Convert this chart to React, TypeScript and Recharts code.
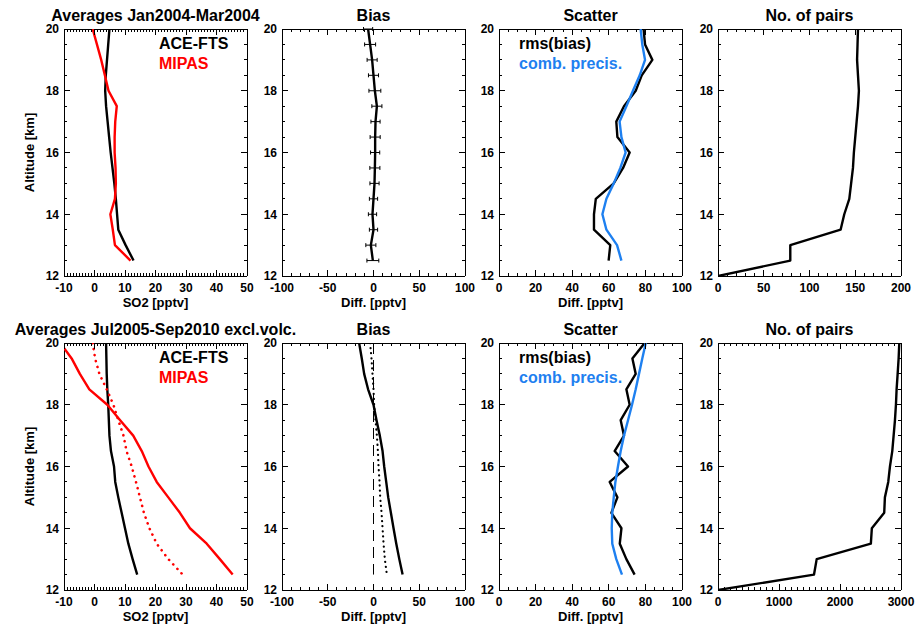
import React from "react";
import { ScatterChart, Scatter, XAxis, YAxis, ErrorBar } from "recharts";

const FONT = "'Liberation Sans', Arial, Helvetica, sans-serif";
const RED = "#ff0000";
const BLUE = "#1e80f0";

// altitude grid [km], top to bottom
const ALT = [20, 19.5, 19, 18.5, 18, 17.5, 17, 16.5, 16, 15.5, 15, 14.5, 14, 13.5, 13, 12.5];
const ALT_PAIRS = [...ALT, 12];

// Jan2004-Mar2004
const aceJan04 = [4.9, 4.5, 4.1, 3.7, 3.5, 3.8, 4.3, 4.8, 5.3, 5.9, 6.5, 7.0, 7.4, 7.8, 10.2, 12.8];
const mipasJan04 = [-0.6, 0.8, 2.2, 3.4, 4.6, 7.3, 6.8, 6.6, 6.6, 6.9, 7.0, 6.7, 5.2, 6.0, 6.7, 11.8];
const biasJan04 = [-5.9, -3.7, -1.5, 0, 1.5, 3.7, 2.2, 1.8, 1.8, 1.5, 1.1, 0, -1.1, 0, -2.9, -0.7];
const biasErrJan04 = [5, 6, 5.5, 5.5, 6.5, 5.5, 5, 5.5, 5, 5.5, 5, 4.5, 4.5, 4.5, 5.5, 6.5];
const rmsJan04 = [79, 79.8, 83.8, 78, 74.7, 68.3, 64.1, 64.7, 71.4, 67.8, 62.7, 52.9, 51.9, 51.9, 60.8, 59.9];
const precJan04 = [77.4, 78.3, 79.8, 76.9, 73.2, 69.6, 65.9, 66.9, 69.2, 66.3, 62.7, 58.7, 56.5, 58.7, 64.5, 66.9];
const pairsJan04 = [153, 152.5, 152, 153, 154, 153, 151.5, 150, 148.5, 147.5, 145.5, 143.5, 138, 134, 79, 79, 0];

// Jul2005-Sep2010 excl. volcanic periods
const aceJul05 = [3.8, 3.9, 4.0, 4.2, 4.5, 4.7, 4.9, 5.4, 6.4, 6.8, 7.8, 8.9, 10.0, 11.1, 12.5, 14.0];
const mipasJul05 = [-11.2, -7.5, -4.8, -1.7, 4.2, 8.4, 12.7, 15.5, 17.7, 20.4, 24.2, 28.0, 31.3, 36.8, 41.1, 45.3];
const mipasJul05Dot = [-0.6, 0.2, 1.6, 4.0, 6.2, 7.8, 9.5, 10.5, 12.2, 13.6, 14.9, 16.2, 18.0, 20.4, 24.2, 28.9];
const biasJul05 = [-15.7, -12.8, -10.2, -5.9, 0, 3.3, 6.9, 9.9, 11.7, 13.9, 16.1, 19.0, 21.9, 24.9, 28.2, 31.8];
const biasJul05Dot = [-3.7, -2.2, -1.1, 0, 0.7, 2.2, 3.7, 4.8, 5.5, 6.6, 7.3, 8.8, 9.9, 11.0, 12.4, 14.6];
const zeroLine = [0, 0];
const zeroAlt = [20, 12.5];
const rmsJul05 = [79.6, 72.9, 74.7, 69.6, 71.4, 66.5, 68.3, 63.2, 70.5, 60.5, 64.7, 61.4, 66.9, 66.0, 69.6, 74.1];
const precJul05 = [80.2, 78.3, 76.5, 74.7, 72.7, 70.5, 68.3, 66.5, 65.0, 63.6, 62.7, 61.9, 61.6, 61.9, 64.1, 67.2];
const pairsJul05 = [2972, 2961, 2945, 2928, 2917, 2901, 2879, 2857, 2819, 2791, 2736, 2725, 2522, 2506, 1618, 1574, 0];

// axis ticks
const range = (a: number, b: number, s: number) => {
  const out: number[] = [];
  for (let i = 0; a + i * s <= b + 1e-9; i++) out.push(+(a + i * s).toFixed(4));
  return out;
};
const altMajor = [12, 14, 16, 18, 20];
const altMinor = range(12, 20, 0.5);
const so2Major = [-10, 0, 10, 20, 30, 40, 50];
const so2Minor = range(-10, 50, 1);
const diffMajor = [-100, -50, 0, 50, 100];
const diffMinor = range(-100, 100, 10);
const scatMajor = [0, 20, 40, 60, 80, 100];
const scatMinor = range(0, 100, 5);
const pairsMajorA = [0, 50, 100, 150, 200];
const pairsMinorA = range(0, 200, 10);
const pairsMajorB = [0, 1000, 2000, 3000];
const pairsMinorB = range(0, 3000, 100);

const pts = (xs: number[], alts: number[], errs?: number[]) =>
  xs.map((x, i) => ({ x, y: alts[i], err: errs ? errs[i] : 0 }));

// geometry of one panel chart
const W = 263;
const H = 316;
const PL = 60;
const PT = 29;
const PW = 183;
const PH = 247;
const plotLefts = [64, 282, 499, 718];
const rowTops = [29, 343];

type Side = "bottom" | "top" | "left" | "right";

// IDL style: inward ticks on all four sides, long at majors, short at minors
const makeTick = (side: Side, majors: number[], labels: boolean) => (p: any) => {
  const { x, y, payload } = p;
  const v = payload.value;
  const isMajor = majors.some((m) => Math.abs(m - v) < 1e-6);
  const len = isMajor ? 6 : 3;
  let x2 = x;
  let y2 = y;
  if (side === "bottom") y2 = y - len;
  if (side === "top") y2 = y + len;
  if (side === "left") x2 = x + len;
  if (side === "right") x2 = x - len;
  return (
    <g>
      <path d={`M${x},${y}L${x2},${y2}`} stroke="#000" strokeWidth={1} fill="none" shapeRendering="crispEdges" />
      {labels && isMajor && side === "bottom" ? (
        <text x={x} y={y + 16} textAnchor="middle" fontSize={12} fontWeight="bold" fontFamily={FONT} fill="#000">
          {v}
        </text>
      ) : null}
      {labels && isMajor && side === "left" ? (
        <text x={x - 5} y={y + 4.3} textAnchor="end" fontSize={12} fontWeight="bold" fontFamily={FONT} fill="#000">
          {v}
        </text>
      ) : null}
    </g>
  );
};

type Series = {
  data: { x: number; y: number; err: number }[];
  color: string;
  width: number;
  dash?: string;
  cap?: "round" | "butt";
  errBars?: boolean;
};

const noDot = () => <g />;

function Panel({
  col,
  row,
  domain,
  major,
  minor,
  series,
}: {
  col: number;
  row: number;
  domain: [number, number];
  major: number[];
  minor: number[];
  series: Series[];
}) {
  const common = {
    tickLine: false,
    tickSize: 0,
    tickMargin: 0,
    interval: 0 as const,
    allowDataOverflow: true,
    axisLine: { stroke: "#000", strokeWidth: 1, shapeRendering: "crispEdges" },
  };
  return (
    <div style={{ position: "absolute", left: plotLefts[col] - PL, top: rowTops[row] - PT }}>
      <ScatterChart width={W} height={H} margin={{ top: PT - 1, left: PL - 20, right: W - PL - PW - 1, bottom: H - PT - PH - 20 }}>
        <XAxis xAxisId="b" orientation="bottom" type="number" dataKey="x" domain={domain} ticks={minor} tick={makeTick("bottom", major, true)} height={20} {...common} />
        <XAxis xAxisId="t" orientation="top" type="number" dataKey="x" domain={domain} ticks={minor} tick={makeTick("top", major, false)} height={1} {...common} />
        <YAxis yAxisId="l" orientation="left" type="number" dataKey="y" domain={[12, 20]} ticks={altMinor} tick={makeTick("left", altMajor, true)} width={20} {...common} />
        <YAxis yAxisId="r" orientation="right" type="number" dataKey="y" domain={[12, 20]} ticks={altMinor} tick={makeTick("right", altMajor, false)} width={1} {...common} />
        {series.map((s, i) => (
          <Scatter
            key={i}
            xAxisId="b"
            yAxisId="l"
            data={s.data}
            fill="none"
            shape={noDot}
            line={{ stroke: s.color, strokeWidth: s.width, strokeDasharray: s.dash, strokeLinecap: s.cap ?? "butt", strokeLinejoin: "round" }}
            lineType="joint"
            isAnimationActive={false}
          >
            {s.errBars ? <ErrorBar dataKey="err" direction="x" width={2} stroke="#000" strokeWidth={1} /> : null}
          </Scatter>
        ))}
        {/* invisible anchor so the top/right axes also get a data domain */}
        <Scatter xAxisId="t" yAxisId="r" data={series[0].data} fill="none" shape={noDot} isAnimationActive={false} />
      </ScatterChart>
    </div>
  );
}

const LW = 2.4;

export default function App() {
  const txt = { fontFamily: FONT, fontWeight: "bold" as const, fill: "#000" };
  const centers = plotLefts.map((l) => l + PW / 2);
  return (
    <div style={{ position: "absolute", left: 0, top: 0, width: 915, height: 626, background: "#fff", overflow: "hidden" }}>
      {/* top row */}
      <Panel col={0} row={0} domain={[-10, 50]} major={so2Major} minor={so2Minor}
        series={[
          { data: pts(aceJan04, ALT), color: "#000", width: LW },
          { data: pts(mipasJan04, ALT), color: RED, width: LW },
        ]} />
      <Panel col={1} row={0} domain={[-100, 100]} major={diffMajor} minor={diffMinor}
        series={[{ data: pts(biasJan04, ALT, biasErrJan04), color: "#000", width: LW, errBars: true }]} />
      <Panel col={2} row={0} domain={[0, 100]} major={scatMajor} minor={scatMinor}
        series={[
          { data: pts(rmsJan04, ALT), color: "#000", width: LW },
          { data: pts(precJan04, ALT), color: BLUE, width: LW },
        ]} />
      <Panel col={3} row={0} domain={[0, 200]} major={pairsMajorA} minor={pairsMinorA}
        series={[{ data: pts(pairsJan04, ALT_PAIRS), color: "#000", width: LW }]} />

      {/* bottom row */}
      <Panel col={0} row={1} domain={[-10, 50]} major={so2Major} minor={so2Minor}
        series={[
          { data: pts(aceJul05, ALT), color: "#000", width: LW },
          { data: pts(mipasJul05, ALT), color: RED, width: LW },
          { data: pts(mipasJul05Dot, ALT), color: RED, width: 2.6, dash: "0.1 6", cap: "round" },
        ]} />
      <Panel col={1} row={1} domain={[-100, 100]} major={diffMajor} minor={diffMinor}
        series={[
          { data: pts(zeroLine, zeroAlt), color: "#000", width: 1, dash: "11 6" },
          { data: pts(biasJul05, ALT), color: "#000", width: LW },
          { data: pts(biasJul05Dot, ALT), color: "#000", width: 2.2, dash: "0.1 5", cap: "round" },
        ]} />
      <Panel col={2} row={1} domain={[0, 100]} major={scatMajor} minor={scatMinor}
        series={[
          { data: pts(rmsJul05, ALT), color: "#000", width: LW },
          { data: pts(precJul05, ALT), color: BLUE, width: LW },
        ]} />
      <Panel col={3} row={1} domain={[0, 3000]} major={pairsMajorB} minor={pairsMinorB}
        series={[{ data: pts(pairsJul05, ALT_PAIRS), color: "#000", width: LW }]} />

      <svg width={915} height={626} style={{ position: "absolute", left: 0, top: 0, pointerEvents: "none" }}>
        {[0, 1].map((r) => {
          const top = rowTops[r];
          const bottom = top + PH;
          return (
            <g key={r}>
              <text x={centers[0]} y={top - 8} textAnchor="middle" fontSize={16} {...txt}>
                {r === 0 ? "Averages Jan2004-Mar2004" : "Averages Jul2005-Sep2010 excl.volc."}
              </text>
              <text x={centers[1]} y={top - 8} textAnchor="middle" fontSize={16} {...txt}>Bias</text>
              <text x={centers[2]} y={top - 8} textAnchor="middle" fontSize={16} {...txt}>Scatter</text>
              <text x={centers[3]} y={top - 8} textAnchor="middle" fontSize={16} {...txt}>No. of pairs</text>

              <text x={centers[0]} y={bottom + 31} textAnchor="middle" fontSize={13} {...txt}>SO2 [pptv]</text>
              <text x={centers[1]} y={bottom + 31} textAnchor="middle" fontSize={13} {...txt}>Diff. [pptv]</text>
              <text x={centers[2]} y={bottom + 31} textAnchor="middle" fontSize={13} {...txt}>Diff. [pptv]</text>

              <text transform={`translate(34.3, ${top + PH / 2}) rotate(-90)`} textAnchor="middle" fontSize={13} {...txt}>
                Altitude [km]
              </text>

              <text x={159} y={top + 20} fontSize={16} {...txt}>ACE-FTS</text>
              <text x={159} y={top + 39.7} fontSize={16} {...txt} fill={RED}>MIPAS</text>
              <text x={519} y={top + 20} fontSize={16} {...txt}>rms(bias)</text>
              <text x={519} y={top + 39.5} fontSize={16} {...txt} fill={BLUE}>comb. precis.</text>
            </g>
          );
        })}
      </svg>
    </div>
  );
}
